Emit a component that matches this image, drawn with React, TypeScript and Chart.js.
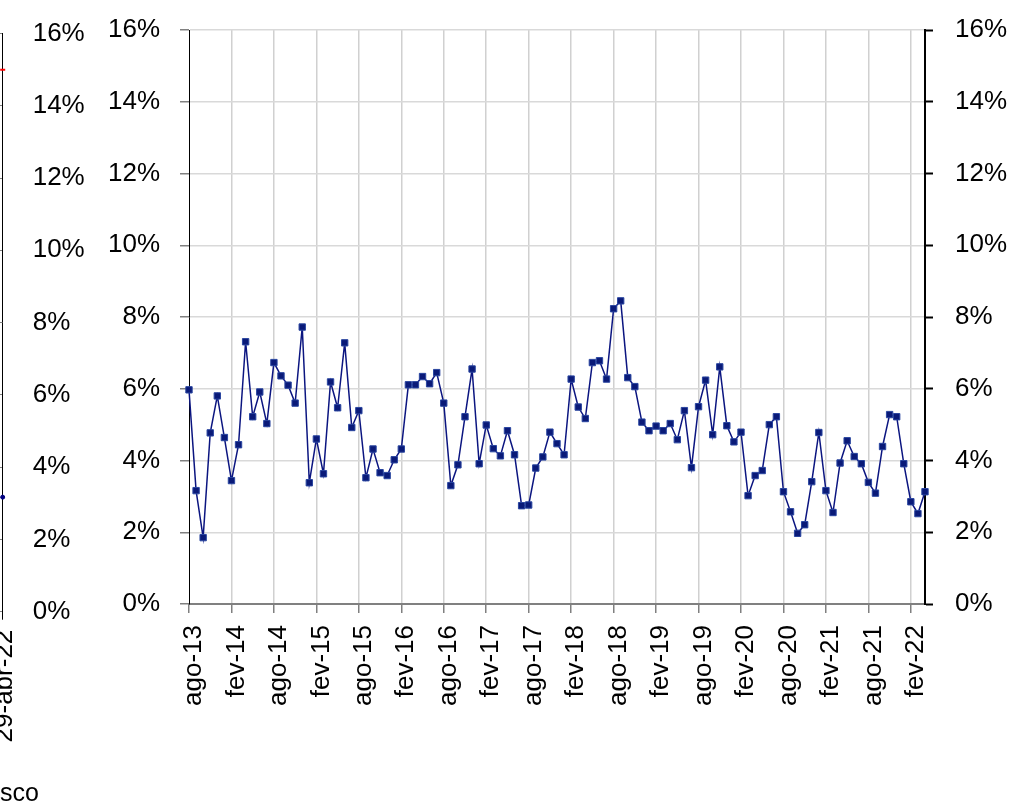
import React, { useEffect, useRef } from 'react';
import { Chart, registerables } from 'chart.js';

Chart.register(...registerables);

// meses (ago-13 .. abr-22)
const MONTHS = [
  'ago-13', 'set-13', 'out-13', 'nov-13', 'dez-13',
  'jan-14', 'fev-14', 'mar-14', 'abr-14', 'mai-14', 'jun-14', 'jul-14', 'ago-14', 'set-14', 'out-14', 'nov-14', 'dez-14',
  'jan-15', 'fev-15', 'mar-15', 'abr-15', 'mai-15', 'jun-15', 'jul-15', 'ago-15', 'set-15', 'out-15', 'nov-15', 'dez-15',
  'jan-16', 'fev-16', 'mar-16', 'abr-16', 'mai-16', 'jun-16', 'jul-16', 'ago-16', 'set-16', 'out-16', 'nov-16', 'dez-16',
  'jan-17', 'fev-17', 'mar-17', 'abr-17', 'mai-17', 'jun-17', 'jul-17', 'ago-17', 'set-17', 'out-17', 'nov-17', 'dez-17',
  'jan-18', 'fev-18', 'mar-18', 'abr-18', 'mai-18', 'jun-18', 'jul-18', 'ago-18', 'set-18', 'out-18', 'nov-18', 'dez-18',
  'jan-19', 'fev-19', 'mar-19', 'abr-19', 'mai-19', 'jun-19', 'jul-19', 'ago-19', 'set-19', 'out-19', 'nov-19', 'dez-19',
  'jan-20', 'fev-20', 'mar-20', 'abr-20', 'mai-20', 'jun-20', 'jul-20', 'ago-20', 'set-20', 'out-20', 'nov-20', 'dez-20',
  'jan-21', 'fev-21', 'mar-21', 'abr-21', 'mai-21', 'jun-21', 'jul-21', 'ago-21', 'set-21', 'out-21', 'nov-21', 'dez-21',
  'jan-22', 'fev-22', 'mar-22', 'abr-22',
];

// % mensal
const RATE = [
  5.97, 3.16, 1.85, 4.77, 5.80, 4.64, 3.44, 4.44, 7.31, 5.22, 5.91, 5.03,
  6.73, 6.36, 6.10, 5.60, 7.72, 3.38, 4.60, 3.63, 6.19, 5.47, 7.28, 4.92,
  5.39, 3.52, 4.32, 3.66, 3.58, 4.02, 4.32, 6.11, 6.11, 6.34, 6.14, 6.45,
  5.60, 3.30, 3.88, 5.22, 6.55, 3.91, 4.99, 4.33, 4.13, 4.83, 4.16, 2.74,
  2.76, 3.79, 4.10, 4.79, 4.47, 4.16, 6.27, 5.49, 5.17, 6.73, 6.78, 6.27,
  8.23, 8.45, 6.31, 6.06, 5.07, 4.83, 4.96, 4.83, 5.03, 4.58, 5.39, 3.80,
  5.50, 6.24, 4.72, 6.61, 4.97, 4.52, 4.79, 3.02, 3.58, 3.72, 5.00, 5.22,
  3.13, 2.57, 1.97, 2.21, 3.41, 4.78, 3.16, 2.55, 3.93, 4.55, 4.11, 3.91,
  3.39, 3.09, 4.39, 5.28, 5.22, 3.91, 2.85, 2.52, 3.13,
];

const TICK_STEP = 6;
const Y_MIN = 0;
const Y_MAX = 16;
const Y_STEP = 2;

// painel cortado à esquerda
const SIDE_LABELS = ['29-abr-22'];
const SIDE_HIGH = [15.0];
const SIDE_RATE = [3.17];
const SIDE_CAPTION = 'sco';

const FONT = "'Liberation Sans', Arial, sans-serif";
const pct = (v: any) => v + '%';

// fixa a largura do eixo y e anula o recuo automático em cima/baixo
const fixY = (w: number) => (s: any) => {
  s.width = w;
  s.paddingTop = 0;
  s.paddingBottom = 0;
};

const App = () => {
  const mainRef = useRef<HTMLCanvasElement>(null);
  const sideRef = useRef<HTMLCanvasElement>(null);

  useEffect(() => {
    const charts: Chart[] = [];
    const font = { family: FONT, size: 26 };

    if (sideRef.current) {
      charts.push(new Chart(sideRef.current, {
        type: 'line',
        data: {
          labels: SIDE_LABELS,
          datasets: [
            {
              data: SIDE_HIGH,
              showLine: false,
              pointStyle: 'line',
              pointRadius: 2.5,
              pointBorderColor: '#ff0000',
              pointBorderWidth: 2,
            },
            {
              data: SIDE_RATE,
              showLine: false,
              pointStyle: 'circle',
              pointRadius: 2,
              pointBackgroundColor: '#000080',
              pointBorderColor: '#000080',
            },
          ],
        },
        options: {
          responsive: false,
          animation: false,
          layout: { padding: { top: 33.5, left: 0, right: 0, bottom: 0 } },
          plugins: { legend: { display: false }, tooltip: { enabled: false } },
          scales: {
            x: {
              reverse: true,
              offset: false,
              grid: { drawOnChartArea: false, tickColor: '#000', tickLength: 8 },
              border: { color: '#808080' },
              ticks: { maxRotation: 90, minRotation: 90, padding: 10, labelOffset: 2, color: '#000', font },
              afterFit: (s: any) => { s.height = 196.3; },
            },
            y: {
              position: 'right',
              min: Y_MIN,
              max: Y_MAX,
              ticks: { stepSize: Y_STEP, padding: 30, color: '#000', font, callback: pct },
              grid: { color: '#7f7f7f', drawTicks: false },
              border: { color: '#000', width: 1 },
              afterFit: fixY(97.3),
            },
          },
        },
      }));
    }

    if (mainRef.current) {
      charts.push(new Chart(mainRef.current, {
        type: 'line',
        data: {
          labels: MONTHS,
          datasets: [{
            data: RATE,
            yAxisID: 'y',
            borderColor: '#0b1580',
            borderWidth: 1.5,
            tension: 0,
            pointStyle: 'rect',
            pointRadius: 4.5,
            pointBackgroundColor: '#0a1a78',
            pointBorderColor: '#2a46a0',
            pointBorderWidth: 1,
          }],
        },
        options: {
          responsive: false,
          animation: false,
          layout: { padding: { top: 30, left: 0, right: 0, bottom: 0 } },
          plugins: { legend: { display: false }, tooltip: { enabled: false } },
          scales: {
            x: {
              type: 'category',
              offset: false,
              grid: {
                color: (c: any) => (c.index % TICK_STEP === 0 && c.index > 0 ? '#d0d0d0' : 'transparent'),
                tickColor: (c: any) => (c.index % TICK_STEP === 0 ? '#808080' : 'transparent'),
                lineWidth: 1.5,
                tickWidth: 1.5,
                tickLength: 9,
              },
              border: { color: '#808080', width: 2 },
              ticks: {
                autoSkip: false,
                maxRotation: 90,
                minRotation: 90,
                padding: 12,
                labelOffset: 5,
                color: '#000',
                font,
                callback: (_v: any, i: number) => (i % TICK_STEP === 0 ? MONTHS[i] : ''),
              },
              afterFit: (s: any) => { s.height = 204; },
            },
            y: {
              position: 'left',
              min: Y_MIN,
              max: Y_MAX,
              ticks: { stepSize: Y_STEP, padding: 20, color: '#000', font, callback: pct },
              grid: { color: '#d9d9d9', lineWidth: 1.5, tickColor: '#808080', tickLength: 9 },
              border: { color: '#000', width: 1 },
              afterFit: fixY(189),
            },
            y2: {
              position: 'right',
              min: Y_MIN,
              max: Y_MAX,
              ticks: { stepSize: Y_STEP, padding: 22, color: '#000', font, callback: pct },
              grid: { drawOnChartArea: false, tickColor: '#000', tickLength: 8, tickWidth: 2 },
              border: { color: '#000', width: 2 },
              afterFit: fixY(86),
            },
          },
        },
      }));
    }

    return () => {
      charts.forEach((c) => c.destroy());
    };
  }, []);

  return (
    <div style={{ position: 'fixed', left: 0, top: 0, width: 1011, height: 808, overflow: 'hidden', background: '#fff' }}>
      <canvas
        ref={sideRef}
        width={300}
        height={808}
        style={{ position: 'absolute', left: -200, top: 0, width: 300, height: 808 }}
      />
      <canvas
        ref={mainRef}
        width={1011}
        height={808}
        style={{ position: 'absolute', left: 0, top: 0, width: 1011, height: 808 }}
      />
      <div style={{ position: 'absolute', left: 0, top: 780, fontFamily: FONT, fontSize: 25, lineHeight: 1, color: '#000' }}>
        {SIDE_CAPTION}
      </div>
    </div>
  );
};

export default App;
